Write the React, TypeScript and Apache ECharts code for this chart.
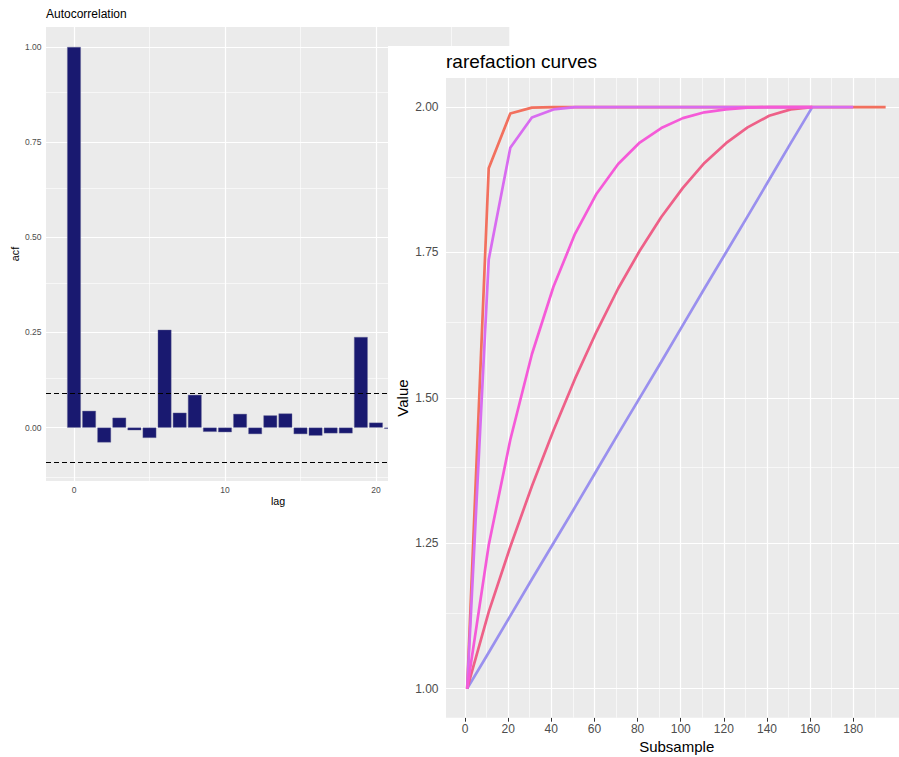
import React, { useEffect, useRef } from "react";
import * as echarts from "echarts";

// ---------- Autocorrelation data ----------
const lags = [0, 1, 2, 3, 4, 5, 6, 7, 8, 9, 10, 11, 12, 13, 14, 15, 16, 17, 18, 19, 20, 21];
const acfValues = [1.0, 0.044, -0.039, 0.026, -0.007, -0.027, 0.257, 0.039, 0.086, -0.011, -0.012, 0.036, -0.017, 0.032, 0.037, -0.017, -0.021, -0.015, -0.015, 0.238, 0.013, -0.003];
const ciBound = 0.086;
const acfYTicks = [0, 0.25, 0.5, 0.75, 1.0];
const acfYMinor = [-0.125, 0.125, 0.375, 0.625, 0.875];
const acfXTicks = [0, 10, 20];
const acfXMinor = [5, 15, 25];

// ---------- Rarefaction data ----------
const subsampleA = [1, 11, 21, 31, 41, 51, 61, 71, 81, 91, 101, 111, 121, 131, 141, 151, 161, 171, 181, 191, 195];
const valueA = [1.0, 1.895, 1.989, 1.999, 2.0, 2.0, 2.0, 2.0, 2.0, 2.0, 2.0, 2.0, 2.0, 2.0, 2.0, 2.0, 2.0, 2.0, 2.0, 2.0, 2.0];
const subsampleB = [1, 11, 21, 31, 41, 51, 61, 71, 81, 91, 101, 111, 121, 131, 141, 151, 161, 171, 180];
const valueB = [1.0, 1.738, 1.93, 1.982, 1.996, 2.0, 2.0, 2.0, 2.0, 2.0, 2.0, 2.0, 2.0, 2.0, 2.0, 2.0, 2.0, 2.0, 2.0];
const subsampleCDE = [1, 11, 21, 31, 41, 51, 61, 71, 81, 91, 101, 111, 121, 131, 141, 151, 161];
const valueC = [1.0, 1.247, 1.428, 1.575, 1.691, 1.782, 1.851, 1.902, 1.939, 1.964, 1.981, 1.991, 1.996, 1.999, 2.0, 2.0, 2.0];
const valueD = [1.0, 1.132, 1.244, 1.348, 1.444, 1.533, 1.614, 1.688, 1.753, 1.811, 1.861, 1.904, 1.938, 1.965, 1.985, 1.996, 2.0];
const valueE = [1.0, 1.062, 1.125, 1.188, 1.25, 1.312, 1.375, 1.438, 1.5, 1.562, 1.625, 1.688, 1.75, 1.812, 1.875, 1.938, 2.0];
const rareXTicks = [0, 20, 40, 60, 80, 100, 120, 140, 160, 180];
const rareXMinor = [10, 30, 50, 70, 90, 110, 130, 150, 170, 190];
const rareYTicks = [1.0, 1.25, 1.5, 1.75, 2.0];
const rareYMinor = [1.125, 1.375, 1.625, 1.875];

const FONT = "'Liberation Sans', Arial, sans-serif";

function gridSeries(xMajor: number[], xMinor: number[], yMajor: number[], yMinor: number[]) {
  const major = { color: "#ffffff", width: 1.2, type: "solid" };
  const minor = { color: "#ffffff", width: 0.6, type: "solid" };
  return {
    type: "line",
    data: [],
    z: 1,
    silent: true,
    markLine: {
      z: 1,
      silent: true,
      symbol: ["none", "none"],
      label: { show: false },
      emphasis: { disabled: true },
      animation: false,
      data: [
        ...xMinor.map((v) => ({ xAxis: v, lineStyle: minor })),
        ...yMinor.map((v) => ({ yAxis: v, lineStyle: minor })),
        ...xMajor.map((v) => ({ xAxis: v, lineStyle: major })),
        ...yMajor.map((v) => ({ yAxis: v, lineStyle: major })),
      ],
    },
  };
}

function AcfChart() {
  const ref = useRef<HTMLDivElement>(null);
  useEffect(() => {
    const chart = echarts.init(ref.current!, null, { renderer: "svg" });
    chart.setOption({
      animation: false,
      backgroundColor: "#ffffff",
      grid: { left: 46, top: 27, width: 463.3, height: 454, show: true, backgroundColor: "#EBEBEB", borderWidth: 0 },
      xAxis: {
        type: "value",
        min: -1.854,
        max: 28.83,
        axisLine: { show: false },
        splitLine: { show: false },
        axisTick: { show: true, length: 3, customValues: acfXTicks, lineStyle: { color: "#333333", width: 0.8 } },
        axisLabel: { customValues: acfXTicks, color: "#4D4D4D", fontSize: 8.5, fontFamily: FONT, margin: 4 },
      },
      yAxis: {
        type: "value",
        min: -0.1403,
        max: 1.0526,
        axisLine: { show: false },
        splitLine: { show: false },
        axisTick: { show: true, length: 3, customValues: acfYTicks, lineStyle: { color: "#333333", width: 0.8 } },
        axisLabel: {
          customValues: acfYTicks,
          color: "#4D4D4D",
          fontSize: 8.5,
          fontFamily: FONT,
          margin: 4.5,
          formatter: (v: number) => v.toFixed(2),
        },
      },
      series: [
        gridSeries(acfXTicks, acfXMinor, acfYTicks, acfYMinor),
        {
          type: "bar",
          z: 2,
          barWidth: 13.6,
          itemStyle: { color: "#191970", borderColor: "#6a6a98", borderWidth: 0.4 },
          data: lags.map((l, i) => [l, acfValues[i]]),
          markLine: {
            z: 5,
            silent: true,
            symbol: ["none", "none"],
            label: { show: false },
            animation: false,
            lineStyle: { color: "#000000", width: 1, type: [5, 3] },
            data: [{ yAxis: ciBound }, { yAxis: -ciBound }],
          },
        },
      ],
      graphic: [
        {
          type: "text",
          left: 46,
          top: 8,
          style: { text: "Autocorrelation", fontSize: 12, fontFamily: FONT, fill: "#000000" },
        },
        {
          type: "text",
          x: 15,
          y: 254,
          rotation: Math.PI / 2,
          style: { text: "acf", fontSize: 10.7, fontFamily: FONT, fill: "#000000", align: "center", verticalAlign: "middle" },
        },
        {
          type: "text",
          x: 278,
          y: 501,
          style: { text: "lag", fontSize: 10.7, fontFamily: FONT, fill: "#000000", align: "center", verticalAlign: "middle" },
        },
      ],
    });
    return () => chart.dispose();
  }, []);
  return <div ref={ref} style={{ position: "absolute", left: 0, top: 0, width: 510, height: 520 }} />;
}

function RareChart() {
  const ref = useRef<HTMLDivElement>(null);
  useEffect(() => {
    const chart = echarts.init(ref.current!, null, { renderer: "svg" });
    const lineSeries = (name: string, xs: number[], ys: number[], color: string, z: number) => ({
      type: "line",
      name,
      z,
      showSymbol: false,
      symbol: "none",
      lineStyle: { color, width: 2.7, join: "round", cap: "butt" },
      itemStyle: { color },
      data: xs.map((x, i) => [x, ys[i]]),
    });
    chart.setOption({
      animation: false,
      backgroundColor: "#ffffff",
      grid: { left: 58, top: 32, right: 0, height: 639.7, show: true, backgroundColor: "#EBEBEB", borderWidth: 0 },
      xAxis: {
        type: "value",
        min: -8.81,
        max: 201.19,
        axisLine: { show: false },
        splitLine: { show: false },
        axisTick: { show: true, length: 4, customValues: rareXTicks, lineStyle: { color: "#333333", width: 1 } },
        axisLabel: { customValues: rareXTicks, color: "#4D4D4D", fontSize: 12, fontFamily: FONT, margin: 5 },
      },
      yAxis: {
        type: "value",
        min: 0.95,
        max: 2.05,
        axisLine: { show: false },
        splitLine: { show: false },
        axisTick: { show: true, length: 4, customValues: rareYTicks, lineStyle: { color: "#333333", width: 1 } },
        axisLabel: {
          customValues: rareYTicks,
          color: "#4D4D4D",
          fontSize: 12,
          fontFamily: FONT,
          margin: 7.5,
          formatter: (v: number) => v.toFixed(2),
        },
      },
      series: [
        gridSeries(rareXTicks, rareXMinor, rareYTicks, rareYMinor),
        lineSeries("A", subsampleA, valueA, "#F2705E", 2),
        lineSeries("E", subsampleCDE, valueE, "#9A90EE", 3),
        lineSeries("D", subsampleCDE, valueD, "#EE6088", 4),
        lineSeries("B", subsampleB, valueB, "#D86CF0", 5),
        lineSeries("C", subsampleCDE, valueC, "#F55AD8", 6),
      ],
      graphic: [
        {
          type: "text",
          x: 58,
          y: 15,
          style: { text: "rarefaction curves", fontSize: 19, fontFamily: FONT, fill: "#000000", align: "left", verticalAlign: "middle" },
        },
        {
          type: "text",
          x: 14.7,
          y: 352,
          rotation: Math.PI / 2,
          style: { text: "Value", fontSize: 15, fontFamily: FONT, fill: "#000000", align: "center", verticalAlign: "middle" },
        },
        {
          type: "text",
          x: 288.7,
          y: 700,
          style: { text: "Subsample", fontSize: 15, fontFamily: FONT, fill: "#000000", align: "center", verticalAlign: "middle" },
        },
      ],
    });
    return () => chart.dispose();
  }, []);
  return <div ref={ref} style={{ position: "absolute", left: 388, top: 46, width: 511, height: 711, zIndex: 2 }} />;
}

export default function App() {
  return (
    <div style={{ position: "absolute", left: 0, top: 0, width: 899, height: 757, background: "#ffffff", overflow: "hidden" }}>
      <AcfChart />
      <RareChart />
    </div>
  );
}
